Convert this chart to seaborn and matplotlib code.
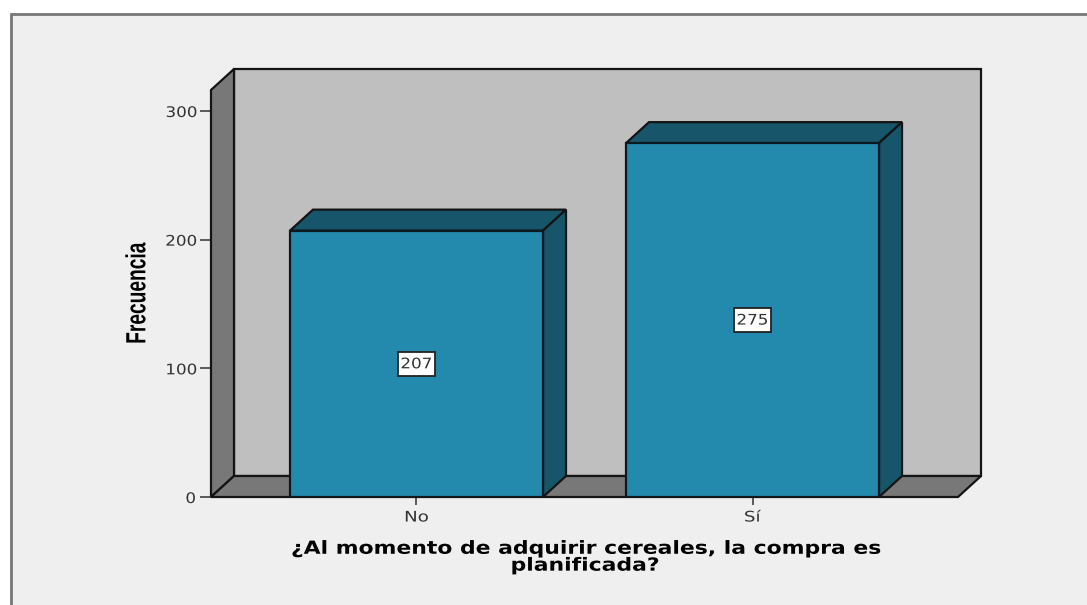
import matplotlib
matplotlib.use("Agg")
import matplotlib.pyplot as plt
from matplotlib.patches import Polygon, Rectangle
from matplotlib.patheffects import AbstractPathEffect
from matplotlib.transforms import Affine2D
import seaborn as sns

categories = ["No", "Sí"]
values = [207, 275]
y_ticks = [0, 100, 200, 300]
x_title = "¿Al momento de adquirir cereales, la compra es\nplanificada?"
y_title = "Frecuencia"

W, H = 1087, 605


class Stretch(AbstractPathEffect):
    """Draw text scaled about its own centre, as in the widened reference lettering."""

    def __init__(self, sx=1.0, sy=1.0):
        super().__init__()
        self.sx, self.sy = sx, sy

    def draw_path(self, renderer, gc, tpath, affine, rgbFace=None):
        e = tpath.get_extents(affine)
        cx, cy = (e.x0 + e.x1) / 2, (e.y0 + e.y1) / 2
        scaled = affine + Affine2D().translate(-cx, -cy).scale(self.sx, self.sy).translate(cx, cy)
        renderer.draw_path(gc, tpath, scaled, rgbFace)


sns.set_theme(style="white")
plt.rcParams["font.family"] = ["DejaVu Sans"]

fig = plt.figure(figsize=(W / 100, H / 100), dpi=100, facecolor="white")
fig.add_artist(Rectangle((10.5 / W, -0.02), 1.1, (H - 14) / H + 0.02, transform=fig.transFigure,
                         facecolor="#EFEFEF", edgecolor="#777777", linewidth=2, zorder=-1))

ax = fig.add_axes([211 / W, (H - 497) / H, (958 - 211) / W, (497 - 90) / H])
ax.patch.set_alpha(0)
for s in ax.spines.values():
    s.set_visible(False)

sns.barplot(x=categories, y=values, width=0.753, color="#248AAD", saturation=1,
            edgecolor="#0A1A20", linewidth=1.6, ax=ax, zorder=5)
ax.set_xlim(-0.6116, 1.6116)
ax.set_ylim(0, 316.3)

# depth of the 3D frame, in data units (23 px right, 21 px up)
dx = 23 / 336
dy = 21 / (386 / 300)
x0, x1 = ax.get_xlim()
y0, y1 = ax.get_ylim()
line = dict(edgecolor="#141414", linewidth=1.6, clip_on=False, joinstyle="miter")

ax.add_patch(Polygon([(x0 + dx, y0 + dy), (x1 + dx, y0 + dy), (x1 + dx, y1 + dy), (x0 + dx, y1 + dy)],
                     facecolor="#BFBFBF", zorder=1, **line))
ax.add_patch(Polygon([(x0, y0), (x0 + dx, y0 + dy), (x0 + dx, y1 + dy), (x0, y1)],
                     facecolor="#787878", zorder=2, **line))
ax.add_patch(Polygon([(x0, y0), (x1, y0), (x1 + dx, y0 + dy), (x0 + dx, y0 + dy)],
                     facecolor="#787878", zorder=2, **line))

for bar in ax.containers[0]:
    a, w, h = bar.get_x(), bar.get_width(), bar.get_height()
    b = a + w
    ax.add_patch(Polygon([(a, h), (b, h), (b + dx, h + dy), (a + dx, h + dy)],
                         facecolor="#17566A", zorder=4, **line))
    ax.add_patch(Polygon([(b, 0), (b + dx, dy), (b + dx, h + dy), (b, h)],
                         facecolor="#17566A", zorder=4, **line))

labels = ax.bar_label(ax.containers[0], label_type="center", fontsize=10.5, color="#333333", zorder=7,
                      bbox=dict(boxstyle="square,pad=0.3", facecolor="white", edgecolor="#222222", linewidth=1.3))
for t in labels:
    t.set_zorder(7)
    t.set_path_effects([Stretch(sx=1.15)])

ax.set_yticks(y_ticks)
ax.tick_params(axis="y", left=True, length=8, width=1.1, color="#333333", pad=3.2,
               labelsize=10.5, labelcolor="#333333")
ax.tick_params(axis="x", bottom=True, length=6, width=1.1, color="#333333", pad=3,
               labelsize=10.5, labelcolor="#333333")
for t in ax.get_yticklabels():
    t.set_path_effects([Stretch(sx=1.15)])
for t in ax.get_xticklabels():
    t.set_path_effects([Stretch(sx=1.25)])

ax.set_xlabel(x_title, fontsize=13, fontweight="bold", color="black", linespacing=0.92, labelpad=11,
              path_effects=[Stretch(sx=1.213)])
ax.set_ylabel(y_title, fontsize=20, fontweight="bold", color="black", labelpad=11.5,
              family=["Liberation Sans"], path_effects=[Stretch(sy=0.69)])

fig.savefig("out.png", dpi=100, facecolor="white")
